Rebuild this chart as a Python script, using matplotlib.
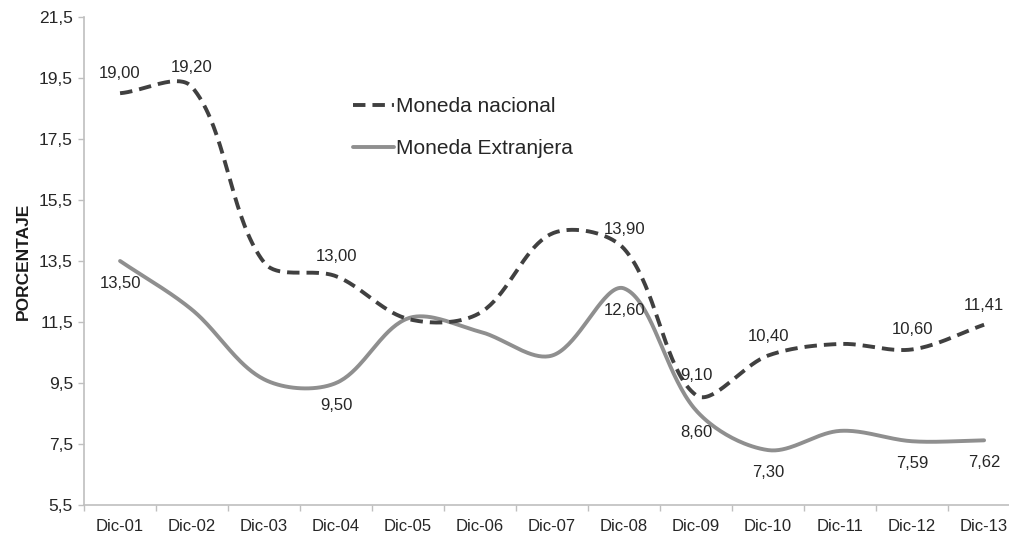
import numpy as np
import matplotlib
matplotlib.use('Agg')
import matplotlib.pyplot as plt

plt.rcParams['font.family'] = ['Liberation Sans', 'DejaVu Sans']

categorias = ['Dic-01', 'Dic-02', 'Dic-03', 'Dic-04', 'Dic-05', 'Dic-06', 'Dic-07',
              'Dic-08', 'Dic-09', 'Dic-10', 'Dic-11', 'Dic-12', 'Dic-13']
nacional = [19.00, 19.20, 13.45, 13.00, 11.60, 11.80, 14.40, 13.90, 9.10, 10.40, 10.78, 10.60, 11.41]
extranjera = [13.50, 11.90, 9.62, 9.50, 11.62, 11.18, 10.40, 12.60, 8.60, 7.30, 7.93, 7.59, 7.62]

# indices de los puntos que llevan etiqueta
etiq_nacional = [0, 1, 3, 7, 8, 9, 11, 12]
etiq_extranjera = [0, 3, 7, 8, 9, 11, 12]

yticks = [5.5, 7.5, 9.5, 11.5, 13.5, 15.5, 17.5, 19.5, 21.5]


def suavizar(xs, ys, sx=72.0, sy=30.5, n=40):
    # curva suavizada tipo Excel (bezier con tangentes ponderadas por longitud)
    P = np.column_stack([np.asarray(xs, float) * sx, np.asarray(ys, float) * sy])
    m = len(P)
    t = np.linspace(0, 1, n)[1:, None]
    out = [P[0:1]]
    for i in range(m - 1):
        p0 = P[i - 1] if i > 0 else P[i]
        p1, p2 = P[i], P[i + 1]
        p3 = P[i + 2] if i + 2 < m else P[i + 1]
        d01 = np.hypot(*(p1 - p0))
        d12 = np.hypot(*(p2 - p1))
        d23 = np.hypot(*(p3 - p2))
        c1 = p1 + (p2 - p0) * (d12 / (d01 + d12)) / 3
        c2 = p2 - (p3 - p1) * (d12 / (d12 + d23)) / 3
        seg = (1 - t)**3 * p1 + 3 * (1 - t)**2 * t * c1 + 3 * (1 - t) * t**2 * c2 + t**3 * p2
        out.append(seg)
    Q = np.vstack(out)
    return Q[:, 0] / sx, Q[:, 1] / sy


fig = plt.figure(figsize=(10.09, 5.37), dpi=100)
ax = fig.add_axes([0.0833, 0.0596, 0.9277, 0.9088])

x = np.arange(len(categorias))
xn, yn = suavizar(x, nacional)
xe, ye = suavizar(x, extranjera)

ax.plot(xe, ye, color='#8f8f8f', lw=2.8, solid_capstyle='round', label='Moneda Extranjera', zorder=2)
ax.plot(xn, yn, color='#404040', lw=2.8, dashes=(3.2, 1.8), label='Moneda nacional', zorder=3)

for i in etiq_nacional:
    ax.annotate(f'{nacional[i]:.2f}'.replace('.', ','), (x[i], nacional[i]), xytext=(0, 14),
                textcoords='offset points', ha='center', va='center', fontsize=12, color='#262626')
for i in etiq_extranjera:
    ax.annotate(f'{extranjera[i]:.2f}'.replace('.', ','), (x[i], extranjera[i]), xytext=(0, -16),
                textcoords='offset points', ha='center', va='center', fontsize=12, color='#262626')

ax.set_xlim(-0.5, len(categorias) - 0.5)
ax.set_ylim(5.5, 21.5)
ax.set_yticks(yticks)
ax.set_yticklabels([f'{v:.1f}'.replace('.', ',') for v in yticks])
ax.set_xticks(x)
ax.set_xticklabels(categorias)
ax.set_xticks(np.arange(len(categorias) + 1) - 0.5, minor=True)
ax.tick_params(axis='x', which='major', length=0, pad=10, labelsize=12, colors='#262626')
ax.tick_params(axis='x', which='minor', length=4, color='#bfbfbf', width=1)
ax.tick_params(axis='y', length=4, color='#bfbfbf', width=1, pad=4, labelsize=12.5, labelcolor='#262626')

for s in ['top', 'right']:
    ax.spines[s].set_visible(False)
for s in ['left', 'bottom']:
    ax.spines[s].set_color('#bfbfbf')
    ax.spines[s].set_linewidth(1.2)

ax.set_ylabel('PORCENTAJE', fontsize=12.5, fontweight='bold', color='#1a1a1a', labelpad=6)

h, l = ax.get_legend_handles_labels()
ax.legend(h[::-1], l[::-1], loc='upper left', bbox_to_anchor=(0.287, 0.836), frameon=False,
          borderpad=0, borderaxespad=0, fontsize=15, handlelength=2.0, handletextpad=0.1,
          labelspacing=1.1, labelcolor='#262626')

fig.savefig('out.png', dpi=100)
